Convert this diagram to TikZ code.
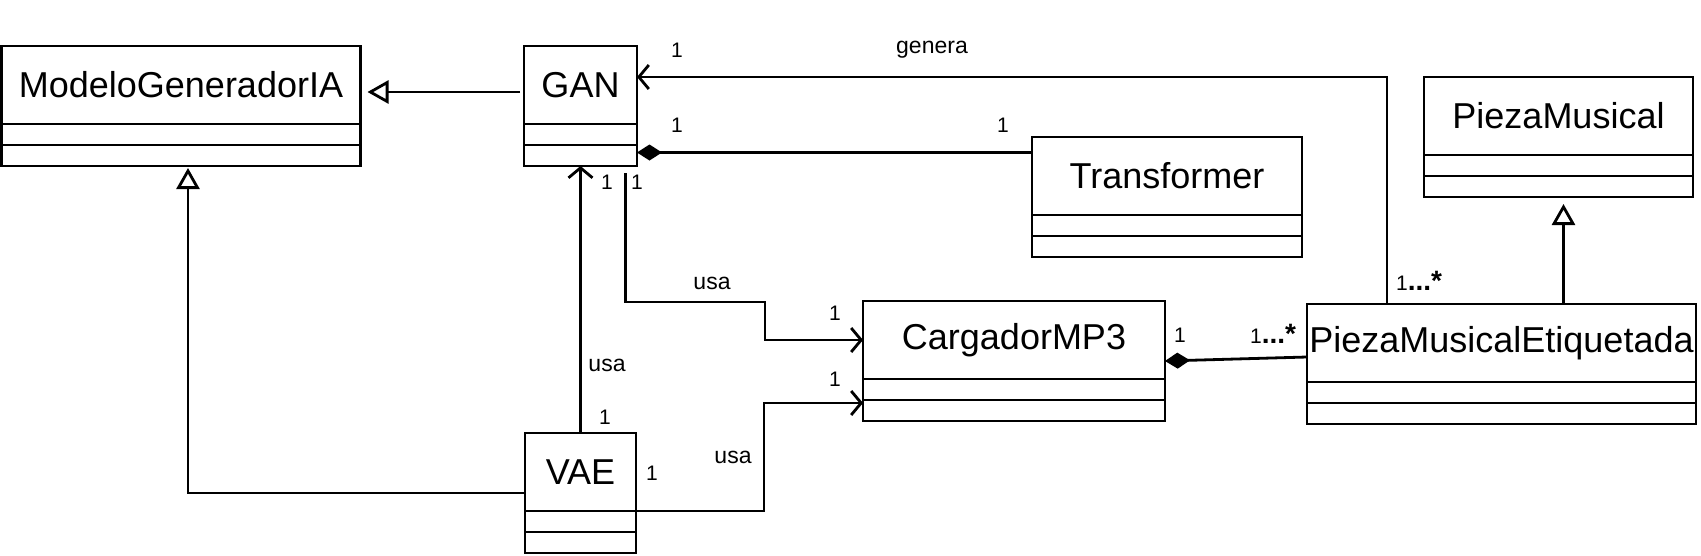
\documentclass[tikz,border=0pt]{standalone}
\usepackage{fontspec}
\setmainfont{Liberation Sans}
\usetikzlibrary{arrows.meta}

\tikzset{
  classname/.style={draw, line width=2.8pt, outer sep=0pt, inner sep=0pt, anchor=north west,
    minimum height=78pt, font=\fontsize{36}{42}\selectfont},
  classpart/.style={draw, line width=2.8pt, outer sep=0pt, inner sep=0pt, anchor=north west,
    minimum height=21pt},
  generalization/.style={line width=2.8pt, -{Triangle[open, length=21pt, width=23pt]}},
  assoc/.style={line width=2.8pt, -{Straight Barb[length=10pt, width=24pt]}},
  compo/.style={line width=2.8pt, {Diamond[length=25pt, width=16pt]}-},
  mult/.style={font=\fontsize{21}{24}\selectfont, inner sep=0pt},
  lbl/.style={font=\fontsize{23}{28}\selectfont, inner sep=0pt}
}

% class box: name, x, y, width, title
\newcommand{\umlclass}[5]{%
  \node[classname, minimum width=#4pt] (#1) at (#2,#3) {#5};
  \node[classpart, minimum width=#4pt] (#1-a) at (#1.south west) {};
  \node[classpart, minimum width=#4pt] (#1-o) at (#1-a.south west) {};
}
\newcommand{\manymult}{1{\bfseries\fontsize{28}{30}\selectfont...*}}

\begin{document}
\begin{tikzpicture}[x=1pt, y=-1pt]
  \useasboundingbox (0,0) rectangle (1701,555);

  \umlclass{modelo}{1.5}{46}{359}{ModeloGeneradorIA}
  \umlclass{gan}{524}{46}{113}{GAN}
  \umlclass{transformer}{1032}{137}{270}{Transformer}
  \umlclass{pieza}{1424}{77}{269}{PiezaMusical}
  \umlclass{cargador}{863}{301}{302}{CargadorMP3}
  \umlclass{pme}{1307}{304}{389}{PiezaMusicalEtiquetada}
  \umlclass{vae}{525}{433}{111}{VAE}

  % herencia
  \draw[generalization, shorten >=7pt, shorten <=4pt] ([yshift=-7pt]gan.west) -- ([yshift=-7pt]modelo.east);
  \draw[generalization, shorten >=2pt] ([yshift=-21pt]vae.west) -| ([xshift=7pt]modelo-o.south);
  \draw[generalization, shorten >=7pt] ([xshift=62pt]pme.north) -- ([xshift=62pt]pme.north |- pieza-o.south);

  % VAE usa GAN
  \draw[assoc] (vae.north) -- (vae.north |- gan-o.south);
  \node[lbl] (usaVG) at (607,365) {usa};
  \node[mult] (mVG1) at (607,182) {1};
  \node[mult] (mVG2) at (605,417) {1};

  % GAN usa CargadorMP3
  \coordinate (bendA) at (765,302);
  \draw[assoc] ([xshift=45pt,yshift=-7pt]gan-o.south) |- (bendA) |- (cargador.west);
  \node[lbl] (usaGC) at (712,283) {usa};
  \node[mult] (mGC1) at (637,182) {1};
  \node[mult] (mGC2) at (835,313) {1};

  % VAE usa CargadorMP3
  \coordinate (bendB) at (764,403);
  \draw[assoc] (vae-a.north east) -| (bendB) -- (bendB -| cargador.west);
  \node[lbl] (usaVC) at (733,457) {usa};
  \node[mult] (mVC1) at (652,473) {1};
  \node[mult] (mVC2) at (835,379) {1};

  % composiciones
  \draw[compo] ([yshift=3pt]gan-o.east) -- ([yshift=3pt]gan-o.east -| transformer.west);
  \node[mult] (mGT1) at (677,125) {1};
  \node[mult] (mGT2) at (1003,125) {1};
  \draw[compo] ([yshift=-21pt]cargador.east) -- ([yshift=-14pt]pme.west);
  \node[mult] (mCP1) at (1180,335) {1};
  \node[mult, anchor=base west] (mCP2) at (1250,343) {\manymult};

  % genera
  \draw[assoc] ([xshift=-114.5pt]pme.north) |- ([yshift=8pt]gan.east);
  \node[lbl] (genera) at (932,50) {genera};
  \node[mult] (mPG1) at (677,50) {1};
  \node[mult, anchor=base west] (mPG2) at (1396,290) {\manymult};
\end{tikzpicture}
\end{document}
